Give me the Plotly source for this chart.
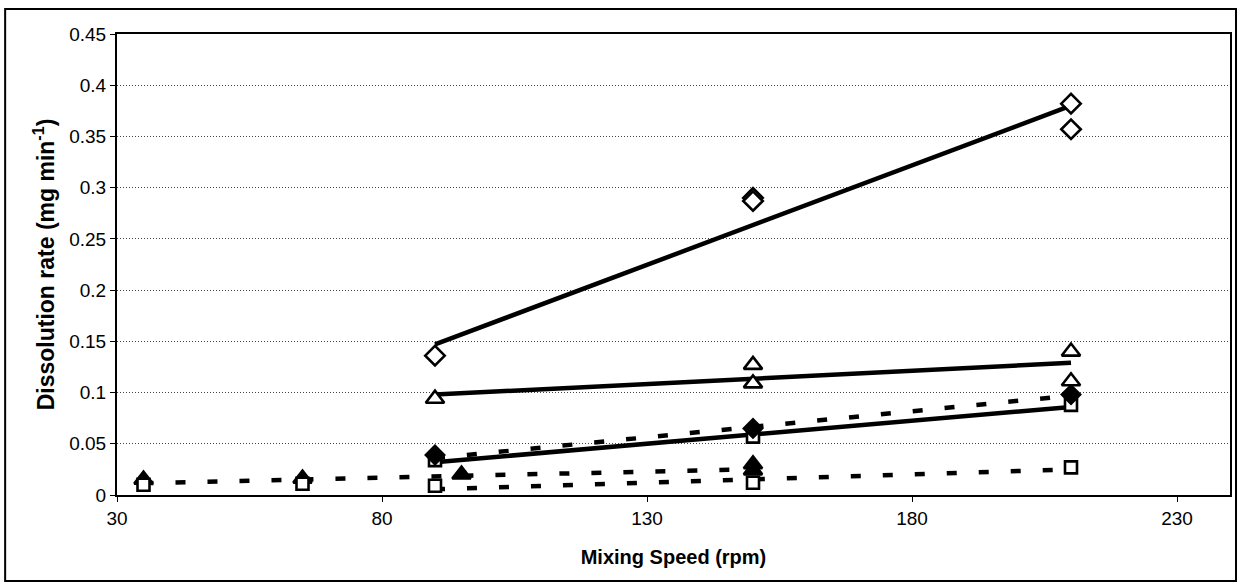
import plotly.graph_objects as go

# ---- data ----
# solid series (open markers)
dia_x = [90, 150, 150, 210, 210]
dia_y = [0.136, 0.290, 0.287, 0.382, 0.357]
dia_trend_x = [90, 210]
dia_trend_y = [0.147, 0.380]

tri_x = [90, 150, 150, 210, 210]
tri_y = [0.094, 0.127, 0.109, 0.140, 0.111]
tri_trend_x = [90, 210]
tri_trend_y = [0.098, 0.129]

sq_x = [90, 150, 210]
sq_y = [0.034, 0.057, 0.088]
sq_trend_x = [90, 210]
sq_trend_y = [0.032, 0.086]

# dashed series
fdia_x = [90, 150, 210]
fdia_y = [0.039, 0.065, 0.098]
fdia_trend_x = [90, 210]
fdia_trend_y = [0.036, 0.097]

ftri_x = [35, 65, 95, 150, 150]
ftri_y = [0.015, 0.016, 0.020, 0.030, 0.024]
ftri_trend_x = [35, 150]
ftri_trend_y = [0.0116, 0.0252]

dsq_x = [35, 65, 90, 150, 210]
dsq_y = [0.010, 0.011, 0.009, 0.012, 0.027]
dsq_trend_x = [90, 210]
dsq_trend_y = [0.0055, 0.025]

x_ticks = [30, 80, 130, 180, 230]
y_ticks = [0, 0.05, 0.1, 0.15, 0.2, 0.25, 0.3, 0.35, 0.4, 0.45]
y_tick_text = ["0", "0.05", "0.1", "0.15", "0.2", "0.25", "0.3", "0.35", "0.4", "0.45"]

FONT = "Liberation Sans, Arial, sans-serif"
fig = go.Figure()

def trend(x, y, dash):
    fig.add_trace(go.Scatter(x=x, y=y, mode="lines",
                             line=dict(color="black", width=4.5, dash=dash),
                             hoverinfo="skip", showlegend=False))

trend(dia_trend_x, dia_trend_y, "solid")
trend(tri_trend_x, tri_trend_y, "solid")
trend(sq_trend_x, sq_trend_y, "solid")
trend(fdia_trend_x, fdia_trend_y, "10px,22px")
trend(ftri_trend_x, ftri_trend_y, "10px,22px")
trend(dsq_trend_x, dsq_trend_y, "10px,22px")

def markers(x, y, symbol, size, fill):
    fig.add_trace(go.Scatter(x=x, y=y, mode="markers",
                             marker=dict(symbol=symbol, size=size, color=fill,
                                         line=dict(color="black", width=2.6)),
                             showlegend=False))

markers(ftri_x, ftri_y, "triangle-up", 16, "black")
markers(dsq_x, dsq_y, "square", 12, "white")
markers(sq_x, sq_y, "square", 12, "white")
markers(fdia_x, fdia_y, "diamond", 14, "black")
markers(tri_x, tri_y, "triangle-up", 16, "white")
markers(dia_x, dia_y, "diamond", 15, "white")

# outer border of the whole chart picture
fig.add_shape(type="rect", xref="paper", yref="paper",
              x0=-0.1005, x1=1.0054, y0=-0.1865, y1=1.0542,
              line=dict(color="black", width=2), layer="below")

fig.update_layout(
    width=1241, height=586,
    margin=dict(l=117, r=9, t=34, b=91),
    paper_bgcolor="white", plot_bgcolor="white",
    font=dict(family=FONT, size=19, color="black"),
    xaxis=dict(range=[30, 240], tickvals=x_ticks, ticks="outside", ticklen=5,
               tickcolor="black", showgrid=False, zeroline=False,
               showline=True, linecolor="black", linewidth=2, mirror=True,
               tickfont=dict(size=19),
               title=dict(text="<b>Mixing Speed (rpm)</b>", font=dict(size=20), standoff=22)),
    yaxis=dict(range=[0, 0.45], tickvals=y_ticks, ticktext=y_tick_text,
               ticks="outside", ticklen=5, tickcolor="black",
               showgrid=True, gridcolor="#444444", griddash="1px,2px", gridwidth=1,
               zeroline=False, showline=True, linecolor="black", linewidth=2, mirror=True,
               tickfont=dict(size=19),
               title=dict(text="<b>Dissolution rate (mg min<sup>-1</sup>)</b>",
                          font=dict(size=23), standoff=8)),
)

fig.write_html("out.html", config={"displayModeBar": False},
               post_script="document.body.style.margin='0';")
